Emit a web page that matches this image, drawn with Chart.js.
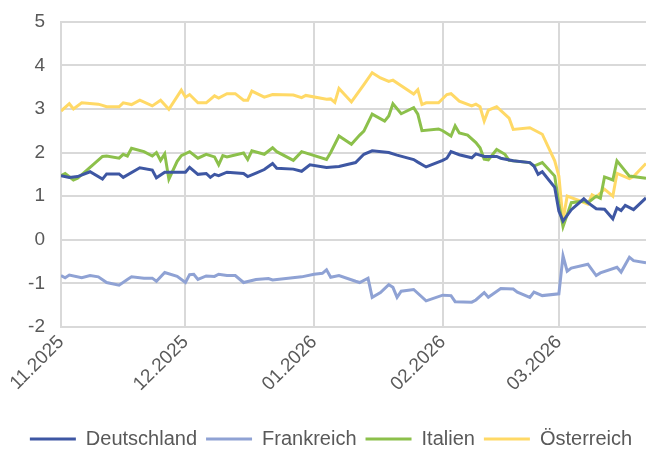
<!DOCTYPE html>
<html lang="de">
<head>
<meta charset="utf-8">
<title>Renditeabstände</title>
<script src="https://cdn.jsdelivr.net/npm/chart.js@4.4.1/dist/chart.umd.min.js"></script>
<style>
  html, body { margin: 0; padding: 0; background: #fff; }
  #wrap { position: relative; width: 662px; height: 450px; }
</style>
</head>
<body>
<div id="wrap"><canvas id="chart"></canvas></div>
<script>
// x values are calendar days counted from 01.11.2025
const monthTicks = [0, 30, 61, 92, 120];
const monthLabels = ["11.2025", "12.2025", "01.2026", "02.2026", "03.2026"];

const deDays = [0, 2, 4, 7, 10, 11, 14, 15, 19, 22, 23, 25, 28, 30, 31, 33, 35, 36, 37, 38, 40, 44, 45, 47, 49, 51, 52, 56, 58, 60, 64, 67, 71, 73, 75, 79, 81, 85, 86, 88, 92, 93, 94, 96, 99, 100, 102, 105, 106, 109, 113, 114, 115, 116, 119, 120, 121, 123, 126, 127, 129, 131, 133, 134, 135, 136, 138, 141];
const deValues = [1.47, 1.43, 1.45, 1.56, 1.39, 1.51, 1.51, 1.43, 1.65, 1.60, 1.42, 1.55, 1.55, 1.55, 1.66, 1.50, 1.52, 1.43, 1.50, 1.47, 1.55, 1.52, 1.45, 1.53, 1.61, 1.75, 1.64, 1.62, 1.57, 1.72, 1.66, 1.68, 1.77, 1.96, 2.04, 2.00, 1.94, 1.84, 1.78, 1.67, 1.82, 1.87, 2.02, 1.95, 1.88, 1.97, 1.91, 1.91, 1.87, 1.81, 1.77, 1.69, 1.50, 1.56, 1.20, 0.66, 0.43, 0.69, 0.94, 0.85, 0.71, 0.70, 0.48, 0.73, 0.67, 0.79, 0.69, 0.96];

const frDays = [0, 1, 2, 5, 7, 9, 11, 14, 16, 17, 20, 22, 23, 25, 28, 30, 31, 32, 33, 35, 37, 38, 40, 42, 44, 47, 50, 51, 58, 61, 63, 64, 65, 67, 71, 72, 74, 75, 77, 79, 80, 81, 82, 85, 88, 92, 94, 95, 99, 100, 102, 103, 106, 109, 110, 113, 114, 116, 120, 121, 122, 123, 127, 129, 130, 134, 135, 137, 138, 141];
const frValues = [-0.82, -0.87, -0.81, -0.87, -0.82, -0.85, -0.98, -1.04, -0.91, -0.85, -0.88, -0.88, -0.95, -0.75, -0.84, -0.98, -0.80, -0.79, -0.91, -0.83, -0.84, -0.79, -0.82, -0.82, -0.98, -0.91, -0.89, -0.92, -0.85, -0.79, -0.77, -0.69, -0.86, -0.82, -0.95, -0.98, -0.88, -1.32, -1.21, -1.03, -1.09, -1.32, -1.18, -1.14, -1.40, -1.27, -1.28, -1.42, -1.43, -1.38, -1.21, -1.32, -1.12, -1.13, -1.20, -1.32, -1.20, -1.28, -1.24, -0.37, -0.72, -0.65, -0.56, -0.82, -0.76, -0.63, -0.74, -0.40, -0.48, -0.53];

const itDays = [0, 1, 3, 4, 7, 10, 11, 14, 15, 16, 17, 20, 22, 23, 24, 25, 26, 28, 29, 31, 33, 35, 37, 38, 39, 40, 44, 45, 46, 49, 51, 52, 56, 58, 64, 65, 67, 70, 72, 73, 75, 78, 79, 80, 82, 85, 86, 87, 91, 92, 94, 95, 96, 98, 100, 101, 102, 103, 105, 107, 108, 113, 114, 116, 119, 120, 121, 123, 126, 127, 129, 130, 131, 133, 134, 137, 141];
const itValues = [1.47, 1.52, 1.37, 1.41, 1.66, 1.91, 1.92, 1.87, 1.96, 1.92, 2.10, 2.02, 1.92, 2.00, 1.82, 1.97, 1.39, 1.80, 1.93, 2.02, 1.87, 1.96, 1.90, 1.72, 1.93, 1.90, 1.99, 1.84, 2.04, 1.96, 2.11, 2.02, 1.82, 2.02, 1.84, 2.00, 2.38, 2.19, 2.40, 2.49, 2.88, 2.72, 2.84, 3.12, 2.89, 3.03, 2.88, 2.50, 2.54, 2.50, 2.38, 2.61, 2.45, 2.40, 2.23, 2.11, 1.85, 1.83, 2.07, 1.96, 1.82, 1.77, 1.69, 1.77, 1.46, 0.82, 0.30, 0.85, 0.89, 0.85, 1.00, 0.95, 1.44, 1.37, 1.81, 1.46, 1.41];

const atDays = [0, 2, 3, 5, 9, 10, 11, 14, 15, 17, 19, 22, 24, 26, 29, 30, 31, 33, 35, 37, 38, 40, 42, 44, 45, 46, 49, 51, 56, 58, 59, 64, 65, 66, 67, 70, 73, 75, 77, 79, 80, 82, 85, 86, 87, 88, 91, 93, 94, 96, 99, 100, 101, 102, 103, 105, 108, 109, 113, 116, 119, 120, 121, 122, 127, 128, 129, 131, 133, 134, 137, 138, 141];
const atValues = [2.95, 3.12, 3.00, 3.14, 3.11, 3.08, 3.05, 3.05, 3.14, 3.10, 3.20, 3.07, 3.20, 2.99, 3.43, 3.27, 3.33, 3.14, 3.14, 3.30, 3.25, 3.35, 3.35, 3.20, 3.20, 3.41, 3.27, 3.33, 3.32, 3.26, 3.31, 3.22, 3.23, 3.15, 3.47, 3.16, 3.56, 3.83, 3.71, 3.63, 3.66, 3.53, 3.34, 3.44, 3.10, 3.14, 3.14, 3.33, 3.35, 3.18, 3.07, 3.11, 3.05, 2.72, 2.97, 3.05, 2.79, 2.53, 2.57, 2.42, 1.81, 1.46, 0.45, 1.00, 0.82, 1.03, 0.98, 1.16, 1.00, 1.52, 1.40, 1.45, 1.75];

const toPoints = (days, values) => days.map((d, i) => ({ x: d, y: values[i] }));

const textColor = "#595959";
const gridColor = "#d9d9d9";
const font = { family: "'Liberation Sans', Arial, sans-serif", size: 19 };
const legendFont = { family: "'Liberation Sans', Arial, sans-serif", size: 20 };

function series(label, days, values, color) {
  return {
    label,
    data: toPoints(days, values),
    borderColor: color,
    backgroundColor: color,
    borderWidth: 3,
    pointRadius: 0,
    tension: 0
  };
}

new Chart(document.getElementById("chart"), {
  type: "line",
  data: {
    datasets: [
      series("Deutschland", deDays, deValues, "#3e57a3"),
      series("Frankreich", frDays, frValues, "#8fa2d4"),
      series("Italien", itDays, itValues, "#8cc04b"),
      series("Österreich", atDays, atValues, "#ffd966")
    ]
  },
  options: {
    responsive: true,
    maintainAspectRatio: false,
    animation: false,
    layout: { padding: { left: 16, right: 16, top: 0, bottom: 0 } },
    plugins: {
      legend: {
        position: "bottom",
        maxHeight: 30,
        labels: {
          color: textColor,
          font: legendFont,
          usePointStyle: true,
          pointStyle: "line",
          pointStyleWidth: 46,
          padding: 9
        }
      },
      tooltip: { enabled: false }
    },
    scales: {
      x: {
        type: "linear",
        min: 0,
        max: 141,
        afterBuildTicks: axis => { axis.ticks = monthTicks.map(v => ({ value: v })); },
        afterFit: axis => { axis.height = 93; },
        ticks: {
          color: textColor,
          font,
          maxRotation: 45,
          minRotation: 45,
          padding: 4,
          callback: v => monthLabels[monthTicks.indexOf(v)]
        },
        grid: { color: gridColor, lineWidth: 2, drawTicks: false },
        border: { display: false }
      },
      y: {
        min: -2,
        max: 5,
        afterFit: axis => { axis.width = 45; },
        ticks: { stepSize: 1, color: textColor, font: { ...font, lineHeight: 0.6 }, padding: 16 },
        grid: { color: gridColor, lineWidth: 2, drawTicks: false },
        border: { color: gridColor, width: 2 }
      }
    }
  }
});
</script>
</body>
</html>
